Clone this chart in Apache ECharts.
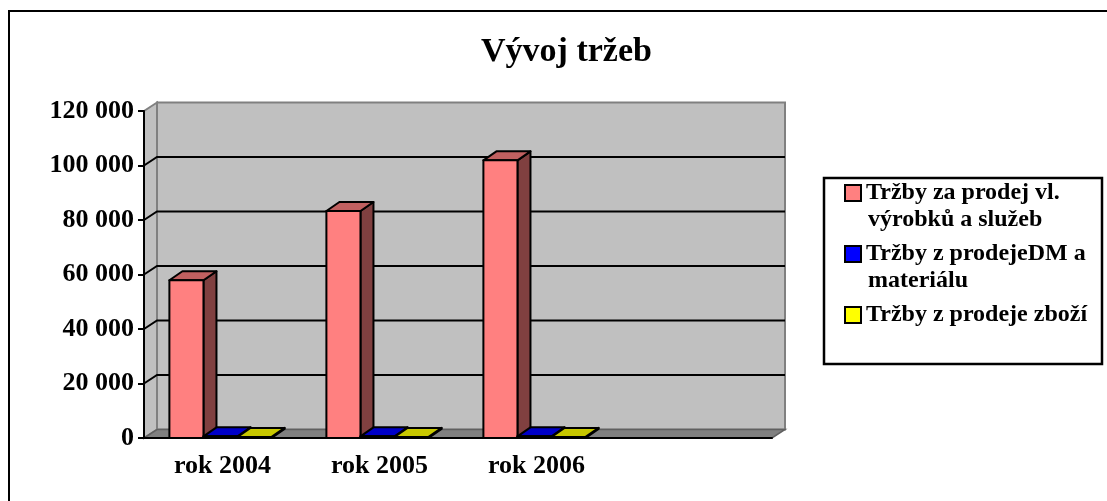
<!DOCTYPE html>
<html>
<head>
<meta charset="utf-8">
<title>Vývoj tržeb</title>
<script src="https://cdn.jsdelivr.net/npm/echarts@6/dist/echarts.min.js"></script>
<style>
  html, body { margin: 0; padding: 0; background: #fff; }
  #chart { width: 1107px; height: 501px; }
</style>
</head>
<body>
<div id="chart"></div>
<script>
// kategorie (ctvrty sloupec je v originale prazdny)
var years = ['rok 2004', 'rok 2005', 'rok 2006', ''];
var seriesNames = ['Tržby za prodej vl. výrobků a služeb', 'Tržby z prodejeDM a materiálu', 'Tržby z prodeje zboží'];
var legendLines = [['Tržby za prodej vl.', 'výrobků a služeb'], ['Tržby z prodejeDM a', 'materiálu'], ['Tržby z prodeje zboží']];
var trzbyVyrobky = [57900, 83300, 101900];
var trzbyMaterial = [600, 600, 600];
var trzbyZbozi = [400, 400, 400];
var yTicks = [0, 20000, 40000, 60000, 80000, 100000, 120000];

var fontFam = '"Liberation Serif", "Times New Roman", serif';
var DX = 13, DY = -8.5;   // hloubka steny
var BDX = 13, BDY = -9;   // hloubka sloupcu

var barColors = [
  { front: '#ff8080', side: '#804040', top: '#c06060' },
  { front: '#0000ff', side: '#000080', top: '#0000c8' },
  { front: '#ffff00', side: '#808000', top: '#c8c800' }
];

function toPairs(arr) {
  return arr.map(function (v, i) { return [i, v]; });
}

function fmtThousands(v) {
  return String(v).replace(/\B(?=(\d{3})+(?!\d))/g, ' ');
}

// steny a podlaha
function frameRenderer(params, api) {
  var g = params.coordSys;
  var x = g.x, y = g.y, w = g.width, h = g.height;
  return {
    type: 'group',
    children: [
      {
        type: 'rect',
        shape: { x: x + DX, y: y + DY, width: w, height: h },
        style: { fill: '#c0c0c0', stroke: '#808080', lineWidth: 2 }
      },
      {
        type: 'polygon',
        shape: { points: [[x, y], [x + DX, y + DY], [x + DX, y + h + DY], [x, y + h]] },
        style: { fill: '#c0c0c0', stroke: '#808080', lineWidth: 2 }
      },
      {
        type: 'polygon',
        shape: { points: [[x, y + h], [x + DX, y + h + DY], [x + w + DX, y + h + DY], [x + w, y + h]] },
        style: { fill: '#808080', stroke: '#606060', lineWidth: 1.5 }
      }
    ]
  };
}

// vodorovne mrizky na zadni a leve stene
function gridRenderer(params, api) {
  var g = params.coordSys;
  var yy = api.coord([0, api.value(1)])[1];
  return {
    type: 'polyline',
    shape: { points: [[g.x, yy], [g.x + DX, yy + DY], [g.x + g.width + DX, yy + DY]] },
    style: { stroke: '#000', lineWidth: 2, fill: null }
  };
}

function barRenderer(idx) {
  return function (params, api) {
    var cat = api.value(0);
    var top = api.coord([cat, api.value(1)]);
    var base = api.coord([cat, 0]);
    var bw = api.size([1, 0])[0] * 0.217;
    var x0 = top[0] - bw * 1.5 - 2 + idx * bw;
    var x1 = x0 + bw;
    var c = barColors[idx];
    var st = function (fill) { return { fill: fill, stroke: '#000', lineWidth: 2, lineJoin: 'round' }; };
    return {
      type: 'group',
      children: [
        {
          type: 'polygon',
          shape: { points: [[x1, top[1]], [x1 + BDX, top[1] + BDY], [x1 + BDX, base[1] + BDY], [x1, base[1]]] },
          style: st(c.side)
        },
        {
          type: 'polygon',
          shape: { points: [[x0, top[1]], [x0 + BDX, top[1] + BDY], [x1 + BDX, top[1] + BDY], [x1, top[1]]] },
          style: st(c.top)
        },
        {
          type: 'rect',
          shape: { x: x0, y: top[1], width: bw, height: base[1] - top[1] },
          style: st(c.front)
        }
      ]
    };
  };
}

var legendRich = {
  s: { width: 16, height: 16 },
  t: { fontSize: 24, fontWeight: 'bold', fontFamily: fontFam, color: '#000', lineHeight: 27 }
};
barColors.forEach(function (c, i) {
  legendRich['m' + i] = { width: 14, height: 14, backgroundColor: c.front, borderColor: '#000', borderWidth: 2 };
});

var chart = echarts.init(document.getElementById('chart'));
chart.setOption({
  animation: false,
  backgroundColor: '#fff',
  title: {
    text: 'Vývoj tržeb',
    left: 476,
    top: 30,
    textStyle: { fontSize: 34, fontWeight: 'bold', fontFamily: fontFam, color: '#000' }
  },
  grid: { left: 144, top: 111, width: 628, height: 327 },
  xAxis: {
    type: 'category',
    data: years,
    z: 10,
    axisLine: { lineStyle: { color: '#000', width: 2 } },
    axisTick: { length: 6, lineStyle: { color: '#000', width: 2 } },
    axisLabel: { fontSize: 26, fontWeight: 'bold', fontFamily: fontFam, color: '#000', margin: 15 },
    splitLine: { show: false }
  },
  yAxis: {
    type: 'value',
    min: yTicks[0],
    max: yTicks[yTicks.length - 1],
    interval: yTicks[1] - yTicks[0],
    z: 10,
    axisLine: { show: true, lineStyle: { color: '#000', width: 2 } },
    axisTick: { show: true, length: 6, lineStyle: { color: '#000', width: 2 } },
    axisLabel: { fontSize: 26, fontWeight: 'bold', fontFamily: fontFam, color: '#000', margin: 10, formatter: fmtThousands },
    splitLine: { show: false }
  },
  legend: {
    orient: 'vertical',
    left: 841,
    top: 181,
    padding: 0,
    itemGap: 10,
    itemWidth: 0,
    itemHeight: 0,
    itemStyle: { opacity: 0 },
    selectedMode: false,
    data: seriesNames,
    formatter: function (name) {
      var i = seriesNames.indexOf(name);
      return legendLines[i].map(function (l, j) {
        return (j === 0 ? '{m' + i + '|}' : '{s|}') + '{t| ' + l + '}';
      }).join('\n');
    },
    textStyle: { rich: legendRich }
  },
  graphic: [
    { type: 'rect', shape: { x: 9, y: 11, width: 1200, height: 600 }, style: { fill: null, stroke: '#000', lineWidth: 2 }, silent: true },
    { type: 'rect', shape: { x: 824, y: 178, width: 278, height: 186 }, style: { fill: null, stroke: '#000', lineWidth: 2.5 }, silent: true }
  ],
  series: [
    { type: 'custom', name: 'frame', z: 1, silent: true, data: [[0, 0]], renderItem: frameRenderer },
    { type: 'custom', name: 'gridlines', z: 2, silent: true, data: toPairs(yTicks).map(function (p) { return [0, p[1]]; }).slice(1, -1), renderItem: gridRenderer },
    { type: 'custom', name: seriesNames[0], z: 3, data: toPairs(trzbyVyrobky), encode: { x: 0, y: 1 }, renderItem: barRenderer(0) },
    { type: 'custom', name: seriesNames[1], z: 3, data: toPairs(trzbyMaterial), encode: { x: 0, y: 1 }, renderItem: barRenderer(1) },
    { type: 'custom', name: seriesNames[2], z: 3, data: toPairs(trzbyZbozi), encode: { x: 0, y: 1 }, renderItem: barRenderer(2) }
  ]
});
</script>
</body>
</html>
